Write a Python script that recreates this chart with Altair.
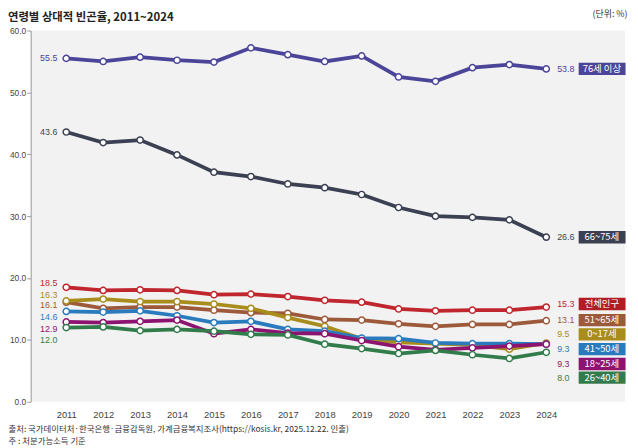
import altair as alt
import pandas as pd

years = list(range(2011, 2025))
series_names = ["76세 이상", "66~75세", "전체인구", "51~65세", "0~17세", "41~50세", "18~25세", "26~40세"]
v_76 = [55.5, 55.0, 55.7, 55.2, 54.9, 57.2, 56.1, 55.0, 55.9, 52.5, 51.8, 54.0, 54.5, 53.8]
v_66 = [43.6, 41.9, 42.3, 39.9, 37.1, 36.4, 35.2, 34.6, 33.5, 31.4, 30.0, 29.8, 29.4, 26.6]
v_all = [18.5, 18.0, 18.1, 18.0, 17.3, 17.4, 17.0, 16.4, 16.1, 15.0, 14.7, 14.8, 14.8, 15.3]
v_51 = [16.1, 15.1, 15.3, 15.3, 14.8, 14.4, 14.3, 13.3, 13.2, 12.6, 12.2, 12.5, 12.5, 13.1]
v_0 = [16.3, 16.6, 16.2, 16.2, 15.8, 15.1, 13.6, 12.2, 10.2, 9.6, 9.4, 9.2, 8.5, 9.5]
v_41 = [14.6, 14.5, 14.7, 13.9, 12.8, 13.0, 11.7, 11.4, 10.3, 10.2, 9.5, 9.4, 9.4, 9.3]
v_18 = [12.9, 12.8, 13.0, 13.2, 11.0, 11.7, 11.1, 11.0, 9.9, 8.9, 8.4, 8.7, 9.0, 9.3]
v_26 = [12.0, 12.1, 11.5, 11.7, 11.4, 10.9, 10.8, 9.3, 8.6, 7.8, 8.3, 7.6, 7.0, 8.0]
all_values = [v_76, v_66, v_all, v_51, v_0, v_41, v_18, v_26]
colors = ["#4b4599", "#3b4152", "#c0262d", "#9d5a3b", "#a88c1c", "#2a7bbd", "#8c1470", "#327c4c"]
box_colors = ["#4b4599", "#3b4152", "#b01e24", "#9d5a3b", "#a88c1c", "#2a7bbd", "#8c1470", "#327c4c"]
# label anchor positions (in data units) where labels were nudged apart
left_label_pos = [55.5, 43.6, 19.2, 15.6, 17.3, 13.7, 11.7, 10.0]
right_label_pos = [53.8, 26.6, 15.8, 13.2, 10.9, 8.5, 6.1, 3.9]
y_ticks = [0, 10, 20, 30, 40, 50, 60]

title_text = "연령별 상대적 빈곤율, 2011~2024"
unit_text = "(단위: %)"
footer = ["출처: 국가데이터처·한국은행·금융감독원, 가계금융복지조사(https://kosis.kr, 2025.12.22. 인출)",
          "주   : 처분가능소득 기준"]

rows = []
for name, vals in zip(series_names, all_values):
    for yr, v in zip(years, vals):
        rows.append({"series": name, "year": yr, "value": v})
df = pd.DataFrame(rows)

lab = pd.DataFrame({
    "series": series_names,
    "fyear": [years[0]] * len(series_names),
    "lyear": [years[-1]] * len(series_names),
    "first": [v[0] for v in all_values],
    "last": [v[-1] for v in all_values],
    "lpos": left_label_pos,
    "rpos": right_label_pos,
})

NARROW = "Liberation Sans Narrow, Arial Narrow, Liberation Sans, sans-serif"
KR = "Noto Sans CJK KR, Noto Sans, sans-serif"

xscale = alt.Scale(domain=[2010.037, 2026.134], nice=False, zero=False)
yscale = alt.Scale(domain=[0, 60], nice=False)
cscale = alt.Scale(domain=series_names, range=colors)
bscale = alt.Scale(domain=series_names, range=box_colors)

xaxis = alt.Axis(values=years, format="d", domain=False, ticks=False, grid=False,
                 labelFont=NARROW, labelFontSize=9.5, labelColor="#444", labelPadding=8,
                 title=footer, titleFont=KR, titleFontSize=8.5, titleFontWeight="normal",
                 titleColor="#333", titleAlign="left", titleAnchor="start", titleBaseline="top",
                 titleX=-23, titleY=23, titleLineHeight=12)
yaxis = alt.Axis(values=y_ticks, format=".1f", grid=False, domainColor="#9a9a9a",
                 tickColor="#9a9a9a", tickSize=4, labelPadding=1, labelFont=NARROW,
                 labelFontSize=8.5, labelColor="#444",
                 title=unit_text, titleFont=KR, titleFontSize=9, titleFontWeight="normal",
                 titleColor="#333", titleAngle=0, titleAlign="right", titleBaseline="middle",
                 titleX=604, titleY=-17)

base = alt.Chart(df)
lines = base.mark_line(strokeWidth=3.8).encode(
    x=alt.X("year:Q", scale=xscale, axis=xaxis),
    y=alt.Y("value:Q", scale=yscale, axis=yaxis),
    color=alt.Color("series:N", scale=cscale, legend=None),
)
points = base.mark_point(filled=False, fill="white", fillOpacity=1, opacity=1, size=40,
                         strokeWidth=1.5, shape="circle").encode(
    x=alt.X("year:Q", scale=xscale),
    y=alt.Y("value:Q", scale=yscale),
    color=alt.Color("series:N", scale=cscale, legend=None),
)

lb = alt.Chart(lab)
left_text = lb.mark_text(align="right", baseline="middle", dx=-9, font=NARROW, fontSize=9).encode(
    x=alt.X("fyear:Q", scale=xscale),
    y=alt.Y("lpos:Q", scale=yscale),
    text=alt.Text("first:Q", format=".1f"),
    color=alt.Color("series:N", scale=cscale, legend=None),
)
right_text = lb.mark_text(align="left", baseline="middle", dx=11, font=NARROW, fontSize=9).encode(
    x=alt.X("lyear:Q", scale=xscale),
    y=alt.Y("rpos:Q", scale=yscale),
    text=alt.Text("last:Q", format=".1f"),
    color=alt.Color("series:N", scale=cscale, legend=None),
)
boxes = lb.transform_calculate(
    ytop="datum.rpos + 1.0", ybot="datum.rpos - 1.0"
).mark_rect().encode(
    x=alt.value(555), x2=alt.value(602.5),
    y=alt.Y("ytop:Q", scale=yscale), y2="ybot:Q",
    fill=alt.Fill("series:N", scale=bscale, legend=None),
)
box_text = lb.mark_text(align="center", baseline="middle", font=KR, fontSize=9.5, color="white").encode(
    x=alt.value(578.5),
    y=alt.Y("rpos:Q", scale=yscale),
    text="series:N",
)

chart = alt.layer(lines, points, left_text, right_text, boxes, box_text).properties(
    width=602, height=376,
    padding={"left": 23, "top": 20, "right": 5, "bottom": 44},
    autosize="none",
    title=alt.TitleParams(title_text, anchor="start", frame="bounds", font=KR, fontSize=11.5,
                          fontWeight="bold", color="#222", offset=-14),
).configure_view(stroke=None, fill="#f2f2f2")

chart.save("out.html", embed_options={"renderer": "svg", "actions": False})
